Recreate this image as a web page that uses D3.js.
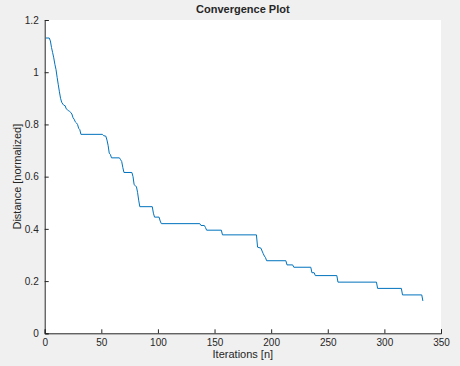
<!DOCTYPE html>
<html><head><meta charset="utf-8">
<script src="https://cdn.jsdelivr.net/npm/d3@7"></script>
<style>
html,body{margin:0;padding:0;background:#f0f0f0;}
svg{display:block;}
text{font-family:"Liberation Sans",Arial,Helvetica,sans-serif;fill:#262626;}
</style></head>
<body>
<svg id="chart" width="460" height="366"></svg>
<script>
const iterations = [1,4,5,6,7,8,9,10,11,12,13,14,15,16,17,18,19,20,21,22,23,24,25,26,27,28,29,30,31,32,51,52,54,55,56,57,58,59,66,67,68,69,70,77,78,79,80,81,82,83,84,95,96,97,101,102,103,137,138,141,142,143,156,157,187,188,191,192,193,194,195,196,213,214,219,220,235,236,238,239,258,259,293,294,315,316,333,334];
const distance = [1.131,1.131,1.12,1.095,1.075,1.055,1.03,1.01,0.98,0.952,0.925,0.9,0.885,0.878,0.873,0.872,0.86,0.857,0.852,0.85,0.846,0.84,0.826,0.82,0.81,0.806,0.8,0.785,0.78,0.762,0.762,0.757,0.755,0.74,0.72,0.69,0.685,0.672,0.672,0.665,0.658,0.635,0.616,0.616,0.6,0.569,0.565,0.562,0.54,0.51,0.485,0.485,0.46,0.445,0.445,0.43,0.42,0.42,0.413,0.413,0.405,0.395,0.395,0.377,0.377,0.33,0.326,0.315,0.305,0.296,0.29,0.278,0.278,0.262,0.262,0.253,0.253,0.232,0.232,0.221,0.221,0.196,0.196,0.172,0.172,0.147,0.147,0.124];
const xTicks = [0,50,100,150,200,250,300,350];
const yTicks = [0,0.2,0.4,0.6,0.8,1,1.2];
const yTickLabels = ["0","0.2","0.4","0.6","0.8","1","1.2"];
const titleText = "Convergence Plot";
const xLabel = "Iterations [n]";
const yLabel = "Distance [normalized]";

const svg = d3.select("#chart");
const L = 44.7, R = 441, T = 20, B = 333.3;
const x = d3.scaleLinear().domain([0,350]).range([L,R]);
const y = d3.scaleLinear().domain([0,1.2]).range([B,T]);

svg.append("rect").attr("x",L).attr("y",T).attr("width",R-L).attr("height",B-T).attr("fill","#ffffff");

const pts = iterations.map((n,i)=>[n,distance[i]]);
svg.append("path").datum(pts)
  .attr("fill","none").attr("stroke","#0072BD").attr("stroke-width",1)
  .attr("d", d3.line().x(d=>x(d[0])).y(d=>y(d[1])));

const xAxis = svg.append("g").attr("transform",`translate(0,${B})`)
  .call(d3.axisBottom(x).tickValues(xTicks).tickSize(-4).tickPadding(6).tickFormat(d3.format("d")));
const yAxis = svg.append("g").attr("transform",`translate(${L},0)`)
  .call(d3.axisLeft(y).tickValues(yTicks).tickSize(-4).tickPadding(6).tickFormat((d,i)=>yTickLabels[i]));
[xAxis,yAxis].forEach(g=>{
  g.select(".domain").attr("stroke","#262626").attr("stroke-width",1);
  g.selectAll(".tick line").attr("stroke","#262626");
  g.selectAll(".tick text").attr("font-size",10).attr("fill","#262626")
   .style("font-family","'Liberation Sans',Arial,sans-serif");
});

svg.append("text").attr("x",(L+R)/2).attr("y",13).attr("text-anchor","middle")
  .attr("font-size",11).attr("font-weight","bold").text(titleText);
svg.append("text").attr("x",(L+R)/2).attr("y",358).attr("text-anchor","middle")
  .attr("font-size",11).text(xLabel);
svg.append("text").attr("transform",`translate(21,${(T+B)/2}) rotate(-90)`).attr("text-anchor","middle")
  .attr("font-size",11).text(yLabel);
</script>
</body></html>
